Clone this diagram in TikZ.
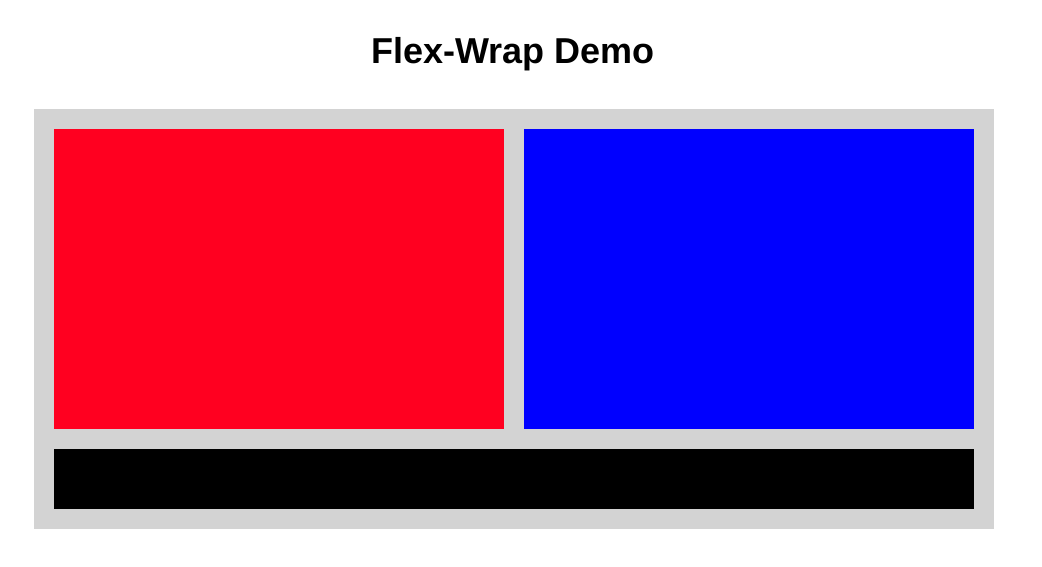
\documentclass[tikz,border=0pt]{standalone}
\usepackage{fontspec}
\setmainfont{Liberation Sans}
\usetikzlibrary{positioning}
\definecolor{wrapgray}{RGB}{211,211,211}
\definecolor{itemred}{RGB}{255,0,32}
\definecolor{itemblue}{RGB}{0,0,255}
\begin{document}
\begin{tikzpicture}[x=1pt,y=-1pt,
  item/.style={draw=none,inner sep=0pt,outer sep=0pt,anchor=north west},
  wrap/.style={item,fill=wrapgray,minimum width=960pt,minimum height=420pt},
  half/.style={item,minimum width=450pt,minimum height=300pt},
  full/.style={item,fill=black,minimum width=920pt,minimum height=60pt}]
\useasboundingbox[fill=white] (0,0) rectangle (1042,567);
\node[anchor=base,font=\bfseries\fontsize{36}{40}\selectfont] (title) at (513,64) {Flex-Wrap Demo};
\node[wrap] (box) at (34,109) {};
\node[half,fill=itemred] (red) at (54,129) {};
\node[half,fill=itemblue] (blue) at (524,129) {};
\node[full] (bar) at (54,449) {};
\end{tikzpicture}
\end{document}
